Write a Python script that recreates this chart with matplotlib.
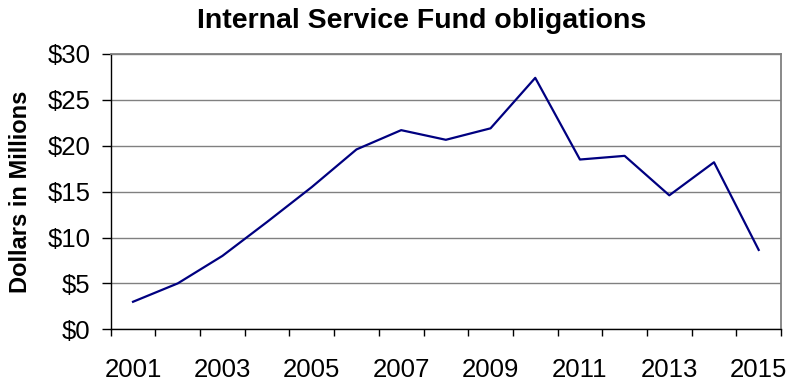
import matplotlib
matplotlib.use("Agg")
import matplotlib.pyplot as plt
import numpy as np

# yearly obligations, millions of dollars
years = [2001, 2002, 2003, 2004, 2005, 2006, 2007, 2008,
         2009, 2010, 2011, 2012, 2013, 2014, 2015]
obligations = [3.0, 5.0, 8.0, 11.7, 15.5, 19.6, 21.7, 20.65,
               21.9, 27.4, 18.5, 18.9, 14.6, 18.2, 8.65]
y_ticks = [0, 5, 10, 15, 20, 25, 30]

plt.rcParams["font.family"] = ["Liberation Sans", "DejaVu Sans"]

fig = plt.figure(figsize=(7.89, 3.81), dpi=100)
ax = fig.add_axes([0.1403, 0.1357, 0.9899 - 0.1403, 0.8583 - 0.1357])

# categories sit between tick marks, like a spreadsheet line chart
x = np.arange(len(years)) + 0.5
ax.plot(x, obligations, color="#000080", linewidth=1.6)

ax.set_xlim(0, len(years))
ax.set_ylim(0, 30)

ax.set_xticks(np.arange(len(years) + 1))
ax.set_xticklabels([])
ax.set_xticks(x[::2], minor=True)
ax.set_xticklabels([str(y) for y in years[::2]], minor=True, fontsize=18.5)
ax.tick_params(axis="x", which="minor", length=0, pad=21)
ax.tick_params(axis="x", which="major", length=5, width=1, direction="out")

ax.set_yticks(y_ticks)
ax.set_yticklabels(["${}".format(v) for v in y_ticks], fontsize=18.5)
ax.tick_params(axis="y", length=6.5, width=1, direction="out", pad=8)

ax.yaxis.grid(True, color="#808080", linewidth=1)
ax.set_axisbelow(True)

for side in ["top", "right"]:
    ax.spines[side].set_color("#808080")
    ax.spines[side].set_linewidth(1.3)
for side in ["left", "bottom"]:
    ax.spines[side].set_color("black")
    ax.spines[side].set_linewidth(1)

fig.text(21 / 789, 0.497, "Dollars in Millions", rotation=90, ha="center",
         va="center", fontsize=17, fontweight="bold")
fig.text(0.535, 0.945, "Internal Service Fund obligations", ha="center",
         va="center", fontsize=20.5, fontweight="bold")

fig.savefig("out.png", dpi=100)
